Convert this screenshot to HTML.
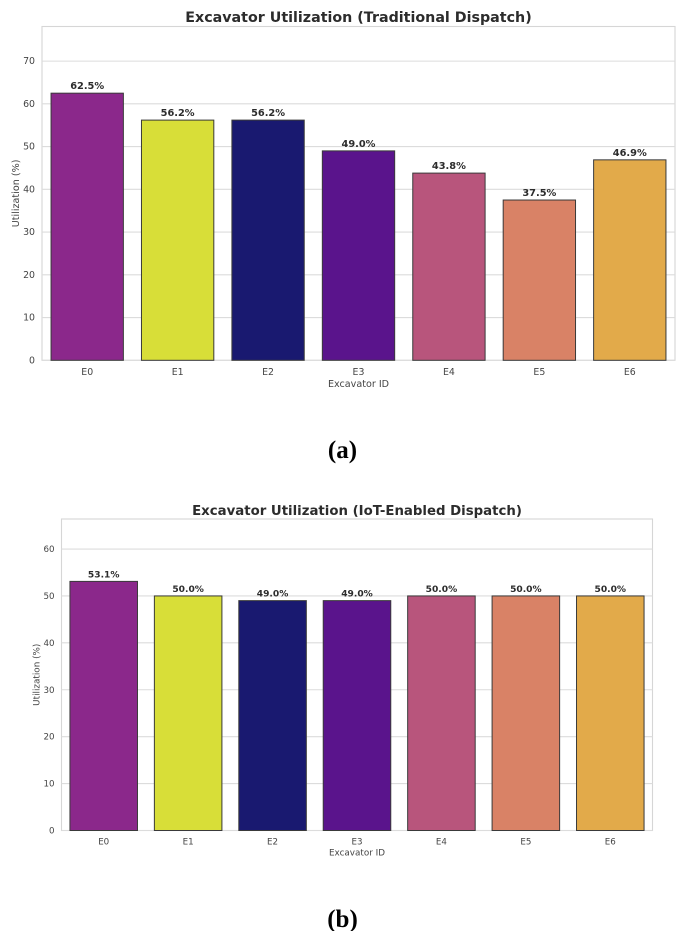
<!DOCTYPE html>
<html lang="en">
<head>
<meta charset="utf-8">
<title>Excavator Utilization</title>
<style>
html,body{margin:0;padding:0;background:#fff;width:685px;height:931px;overflow:hidden}
svg{display:block;filter:blur(0.35px)}
text{font-family:"DejaVu Sans","Liberation Sans",sans-serif}
</style>
</head>
<body>
<svg id="fig" xmlns="http://www.w3.org/2000/svg" width="685" height="931" viewBox="0 0 685 931"></svg>
<script>
const categories = ['E0','E1','E2','E3','E4','E5','E6'];
const barColors = ['#8b288b','#d8de38','#191970','#5a148c','#b8557c','#d98266','#e2aa4a'];
const traditionalValues = [62.5,56.2,56.2,49.0,43.8,37.5,46.9];
const iotValues = [53.1,50.0,49.0,49.0,50.0,50.0,50.0];
const traditionalTicks = [0,10,20,30,40,50,60,70];
const iotTicks = [0,10,20,30,40,50,60];
const traditionalTitle = 'Excavator Utilization (Traditional Dispatch)';
const iotTitle = 'Excavator Utilization (IoT-Enabled Dispatch)';

const svg = document.getElementById('fig');
const NS = 'http://www.w3.org/2000/svg';
function make(tag, attrs, parent, text){
  const el = document.createElementNS(NS, tag);
  for (const k in attrs) el.setAttribute(k, attrs[k]);
  if (text !== undefined) el.textContent = text;
  parent.appendChild(el);
  return el;
}

function drawChart(cfg){
  const g = make('g', {}, svg);
  
  
  const xScale = i => cfg.left + (i + 0.5) * (cfg.right - cfg.left) / categories.length;
  const yScale = v => cfg.bottom - (v / cfg.yMax) * (cfg.bottom - cfg.top);
  const band = (cfg.right - cfg.left) / categories.length * 0.8;

  const title = make('text', {x:(cfg.left+cfg.right)/2+cfg.titleDx, y:cfg.titleY, 'text-anchor':'middle', 'font-size':cfg.titleSize, 'font-weight':'bold', fill:'#2c2c2c'}, g, cfg.title);
  
  

  const frame = make('rect', {x:cfg.left, y:cfg.top, width:cfg.right-cfg.left, height:cfg.bottom-cfg.top, fill:'#fff', stroke:'#d6d6d6', 'stroke-width':1.1}, g);
  
  

  cfg.ticks.forEach(t => {
    const y = yScale(t);
    const line = make('line', {x1:cfg.left, x2:cfg.right, y1:y, y2:y, stroke:'#dcdcdc', 'stroke-width':1.1}, g);
    
    
    const label = make('text', {x:cfg.left-7, y:y+3, 'text-anchor':'end', 'font-size':cfg.tickSize, fill:'#444'}, g, String(t));
    
    
  });

  cfg.values.forEach((v, i) => {
    const cx = xScale(i), y = yScale(v);
    const bar = make('rect', {x:cx-band/2, y:y, width:band, height:yScale(0)-y, fill:barColors[i], stroke:'#3a3a3a', 'stroke-width':1}, g);
    
    
    const val = make('text', {x:cx, y:y-cfg.valueGap, 'text-anchor':'middle', 'font-size':cfg.valueSize, 'font-weight':'bold', fill:'#2c2c2c'}, g, v.toFixed(1) + '%');
    
    
    const tick = make('text', {x:cx, y:cfg.bottom+cfg.xTickDy, 'text-anchor':'middle', 'font-size':cfg.tickSize, fill:'#444'}, g, categories[i]);
    
    
  });

  const xTitle = make('text', {x:(cfg.left+cfg.right)/2, y:cfg.bottom+cfg.xTitleDy, 'text-anchor':'middle', 'font-size':cfg.axisSize, fill:'#444'}, g, 'Excavator ID');
  
  

  const cy = (cfg.top+cfg.bottom)/2;
  const yTitle = make('text', {x:cfg.yTitleX, y:cy, 'text-anchor':'middle', 'font-size':cfg.axisSize, fill:'#444', transform:'rotate(-90 '+cfg.yTitleX+' '+cy+')'}, g, 'Utilization (%)');
  
  

  const cap = make('text', {x:cfg.capX, y:cfg.capY, 'text-anchor':'middle', 'font-size':25, 'font-weight':'bold', fill:'#000', style:'font-family:"Liberation Serif",serif'}, g, cfg.caption);
  
  
}

drawChart({name:'chart-traditional-dispatch', title:traditionalTitle, values:traditionalValues, ticks:traditionalTicks,
  left:42, right:675, top:26.5, bottom:360.3, yMax:78.1, titleY:22, titleDx:0, titleSize:14.25, tickSize:9.4, valueSize:9.8, axisSize:9.6,
  valueGap:4, xTickDy:14.5, xTitleDy:26.5, yTitleX:19, caption:'(a)', capX:342.5, capY:458});
drawChart({name:'chart-iot-enabled-dispatch', title:iotTitle, values:iotValues, ticks:iotTicks,
  left:61.5, right:652.5, top:519, bottom:830.5, yMax:66.4, titleY:515, titleDx:0, titleSize:13.3, tickSize:8.7, valueSize:9.1, axisSize:8.8,
  valueGap:4, xTickDy:14, xTitleDy:25, yTitleX:39.5, caption:'(b)', capX:342.5, capY:927});
</script>
</body>
</html>
